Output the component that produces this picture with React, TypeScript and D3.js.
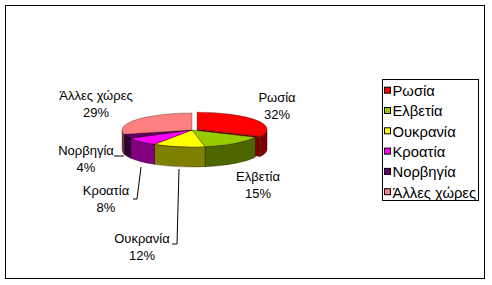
import React from 'react';
import * as d3 from 'd3';

const categories = ['Ρωσία', 'Ελβετία', 'Ουκρανία', 'Κροατία', 'Νορβηγία', 'Άλλες χώρες'];
const values = [32, 15, 12, 8, 4, 29];
const colors = ['#FF0000', '#99CC00', '#FFFF00', '#FF00FF', '#660066', '#FF8080'];
const exploded = [6, 0, 0, 0, 0, 0];

// label layout (text center x, first-line baseline y)
const labelLayout: [number, number][] = [
  [277, 102],
  [258, 181],
  [142, 243],
  [106, 195],
  [86, 155],
  [96, 100],
];
// leader lines
const leaders: ([number, number][] | null)[] = [
  null,
  null,
  [[179, 169], [177, 244], [172, 244]],
  [[141, 167], [137, 199], [133, 199]],
  [[114, 156], [124, 156]],
  null,
];

const W = 492, H = 285;
const cx = 192, cy = 130, rx = 70, ry = 17, depth = 20;
const FONT = '"Liberation Sans", Arial, sans-serif';

function dark(c: string) {
  const r = d3.rgb(c);
  return d3.rgb(r.r * 0.5, r.g * 0.5, r.b * 0.5).formatHex();
}

export default function App() {
  const total = d3.sum(values);
  const pie = d3.pie<number>().sort(null).value((d) => d);
  const arcs = pie(values);

  const items = arcs.map((a, i) => {
    const mid = (a.startAngle + a.endAngle) / 2;
    const ox = exploded[i] * Math.sin(mid);
    const oy = -exploded[i] * Math.cos(mid) * (ry / rx);
    const P = (t: number, z: number): [number, number] => [
      cx + ox + rx * Math.sin(t),
      cy + oy - ry * Math.cos(t) + z,
    ];
    const C = (z: number): [number, number] => [cx + ox, cy + oy + z];
    const a0 = a.startAngle, a1 = a.endAngle;
    const large = a1 - a0 > Math.PI ? 1 : 0;
    const p0 = P(a0, 0), p1 = P(a1, 0), c0 = C(0);
    const top = `M${c0[0]},${c0[1]}L${p0[0]},${p0[1]}A${rx},${ry} 0 ${large} 1 ${p1[0]},${p1[1]}Z`;
    let wall: string | null = null;
    const b0 = Math.max(a0, Math.PI / 2), b1 = Math.min(a1, (3 * Math.PI) / 2);
    if (b1 > b0) {
      const q0 = P(b0, 0), q1 = P(b1, 0), q1d = P(b1, depth), q0d = P(b0, depth);
      const lg = b1 - b0 > Math.PI ? 1 : 0;
      wall = `M${q0[0]},${q0[1]}A${rx},${ry} 0 ${lg} 1 ${q1[0]},${q1[1]}L${q1d[0]},${q1d[1]}A${rx},${ry} 0 ${lg} 0 ${q0d[0]},${q0d[1]}Z`;
    }
    const faces: string[] = [];
    const face = (t: number) => {
      const p = P(t, 0), pd = P(t, depth), cd = C(depth);
      return `M${c0[0]},${c0[1]}L${p[0]},${p[1]}L${pd[0]},${pd[1]}L${cd[0]},${cd[1]}Z`;
    };
    if (-Math.sin(a0) > 1e-6) faces.push(face(a0));
    if (Math.sin(a1) > 1e-6) faces.push(face(a1));
    return { top, wall, faces, color: colors[i], side: dark(colors[i]) };
  });

  const stroke = '#000';
  const sw = 0.3;

  return (
    <svg
      width={W}
      height={H}
      style={{ position: 'absolute', left: 0, top: 0, background: '#fff' }}
      fontFamily={FONT}
    >
      <rect x={0} y={0} width={W} height={H} fill="#fff" />
      <rect x={5.5} y={5.5} width={479} height={273} fill="#fff" stroke="#000" strokeWidth={1} />

      {/* cut faces */}
      {items.map((it, i) =>
        it.faces.map((f, j) => (
          <path key={`f${i}-${j}`} d={f} fill={it.side} stroke={stroke} strokeWidth={sw} />
        ))
      )}
      {/* walls */}
      {items.map((it, i) =>
        it.wall ? <path key={`w${i}`} d={it.wall} fill={it.side} stroke={stroke} strokeWidth={sw} /> : null
      )}
      {/* tops */}
      {items.map((it, i) => (
        <path key={`t${i}`} d={it.top} fill={it.color} stroke={stroke} strokeWidth={sw} />
      ))}

      {/* leader lines */}
      {leaders.map((l, i) =>
        l ? (
          <polyline
            key={`l${i}`}
            points={l.map((p) => p.join(',')).join(' ')}
            fill="none"
            stroke="#000"
            strokeWidth={1}
          />
        ) : null
      )}

      {/* labels */}
      {categories.map((c, i) => (
        <text key={`lab${i}`} x={labelLayout[i][0]} y={labelLayout[i][1]} fontSize={13} textAnchor="middle" fill="#000">
          <tspan x={labelLayout[i][0]}>{c}</tspan>
          <tspan x={labelLayout[i][0]} dy={16.5}>{Math.round((values[i] / total) * 100)}%</tspan>
        </text>
      ))}

      {/* legend */}
      <rect x={382.5} y={79.5} width={96} height={121} fill="#fff" stroke="#000" strokeWidth={1} />
      {categories.map((c, i) => {
        const y = 90.7 + i * 20.3;
        return (
          <g key={`lg${i}`}>
            <rect x={384.5} y={y - 3.5} width={6} height={6} fill={colors[i]} stroke="#000" strokeWidth={1} />
            <text x={392.5} y={y + 5.3} fontSize={14.8} fill="#000">
              {c}
            </text>
          </g>
        );
      })}
    </svg>
  );
}
